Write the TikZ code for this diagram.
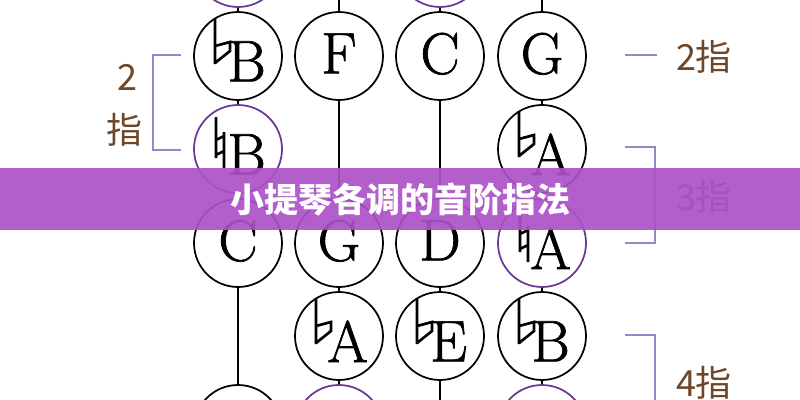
\documentclass[tikz,border=0pt]{standalone}
\usepackage{fontspec}
\newfontfamily\cjk{Noto Sans CJK SC}
\newfontfamily\notefont{Latin Modern Roman}[FakeBold=1.2]
\usetikzlibrary{calc}
\definecolor{pcirc}{RGB}{105,55,150}
\definecolor{brk}{RGB}{140,140,200}
\definecolor{lbl}{RGB}{110,70,40}
\definecolor{band}{RGB}{172,82,200}
\newcommand{\accl}[1]{\raisebox{-4pt}[\height][0pt]{\hspace*{13pt}#1}}
\newcommand{\pll}[1]{\raisebox{2pt}[\height][0pt]{#1}}
\newcommand{\drawflat}[1]{\draw[accsign,shift={(#1)}] (-23,-38) -- (-23,8) (-23,-10) -- (-8,-14) -- (-8,-5) -- (-23,7);}
\newcommand{\drawnat}[1]{\draw[accsign,shift={(#1)}] (-22,-32) -- (-22,9) (-14,-17) -- (-14,19) (-22,-9) -- (-14,-13) (-22,6) -- (-14,2);}
\begin{document}
\begin{tikzpicture}[x=0.75pt,y=-0.75pt,
  note/.style={circle,draw=black,line width=1.3pt,minimum size=66pt,inner sep=0pt,font=\notefont\fontsize{44}{44}\selectfont},
  pnote/.style={note,draw=pcirc},
  link/.style={line width=1.5pt},
  accsign/.style={line width=2pt,line join=miter},
  brack/.style={draw=brk,line width=1.2pt},
  lab/.style={text=lbl,font=\cjk\fontsize{27}{27}\selectfont,inner sep=0pt}]
\useasboundingbox (0,0) rectangle (800,400);
\clip (0,0) rectangle (800,400);
\fill[white] (0,0) rectangle (800,400);
% row 0
\node[pnote] (r0c1) at (238,-37) {};
\node[pnote] (r0c3) at (440,-37) {};
\coordinate (top2) at (339,0);
\coordinate (top4) at (542,0);
% row 1
\node[note] (r1c1) at (238,56) {\accl{B}};
\node[note] (r1c2) at (339,56) {\pll{F}};
\node[note] (r1c3) at (440,56) {\pll{C}};
\node[note] (r1c4) at (542,56) {\pll{G}};
% row 2
\node[pnote] (r2c1) at (238,149) {\accl{B}};
\node[note] (r2c4) at (542,149) {\accl{A}};
% row 3
\node[note] (r3c1) at (238,243) {\pll{C}};
\node[note] (r3c2) at (339,243) {\pll{G}};
\node[note] (r3c3) at (440,243) {\pll{D}};
\node[pnote] (r3c4) at (542,243) {\accl{A}};
% row 4
\node[note] (r4c2) at (339,336) {\accl{A}};
\node[note] (r4c3) at (440,336) {\accl{E}};
\node[note] (r4c4) at (542,336) {\accl{B}};
% row 5
\node[note] (r5c1) at (238,429) {};
\node[pnote] (r5c2) at (339,429) {};
\node[pnote] (r5c4) at (542,429) {};
\coordinate (bot3) at (440,400);
% accidentals
\drawflat{r1c1}
\drawnat{r2c1}
\drawflat{r2c4}
\drawnat{r3c4}
\drawflat{r4c2}
\drawflat{r4c3}
\drawflat{r4c4}
% connectors
\draw[link] (r0c1.south) -- (r1c1.north);
\draw[link] (r0c3.south) -- (r1c3.north);
\draw[link] (top2) -- (r1c2.north);
\draw[link] (top4) -- (r1c4.north);
\draw[link] (r1c1.south) -- (r2c1.north);
\draw[link] (r1c2.south) -- (r3c2.north);
\draw[link] (r1c3.south) -- (r3c3.north);
\draw[link] (r1c4.south) -- (r2c4.north);
\draw[link] (r2c1.south) -- (r3c1.north);
\draw[link] (r2c4.south) -- (r3c4.north);
\draw[link] (r3c1.south) -- (r5c1.north);
\draw[link] (r3c2.south) -- (r4c2.north);
\draw[link] (r3c3.south) -- (r4c3.north);
\draw[link] (r3c4.south) -- (r4c4.north);
\draw[link] (r4c2.south) -- (r5c2.north);
\draw[link] (r4c3.south) -- (bot3);
\draw[link] (r4c4.south) -- (r5c4.north);
% left bracket
\draw[brack] (181,55) -- (153,55) -- (153,150) -- (181,150);
\node[lab] (l2) at (127,77) {2};
\node[lab] (lzhi) at (124,130) {指};
% right labels
\draw[brack] (625,55) -- (657,55);
\node[lab] (r2) at (704,57) {2指};
\draw[brack] (625,147) -- (655,147) -- (655,243) -- (625,243);
\node[lab] (r3) at (704,197) {3指};
\draw[brack] (625,335) -- (655,335) -- (655,400);
\node[lab] (r4) at (704,383) {4指};
% banner
\fill[band,opacity=0.92] (0,168) rectangle (800,230);
\node[text=white,font=\cjk\bfseries\fontsize{25.5}{25.5}\selectfont,inner sep=0pt] (title) at (400,200) {小提琴各调的音阶指法};
\end{tikzpicture}
\end{document}
